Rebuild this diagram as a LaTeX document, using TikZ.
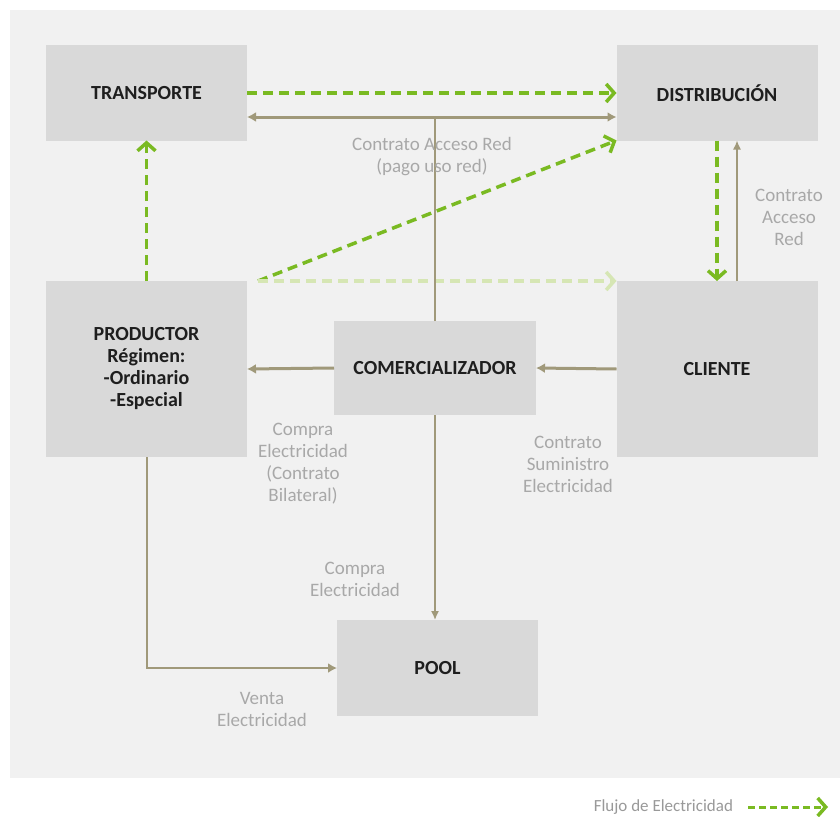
\documentclass[tikz,border=0pt]{standalone}
\usepackage{fontspec}
\setmainfont{Carlito}
\usetikzlibrary{arrows.meta,calc}

\definecolor{panelgris}{RGB}{241,241,241}
\definecolor{cajagris}{RGB}{217,217,217}
\definecolor{textocaja}{RGB}{30,30,30}
\definecolor{textogris}{RGB}{168,168,168}
\definecolor{verdeflujo}{RGB}{122,186,34}
\definecolor{verdeclaro}{RGB}{214,230,180}
\definecolor{oliva}{RGB}{160,153,122}

\begin{document}
\begin{tikzpicture}[x=1pt, y=-1pt, outer sep=0pt]

\tikzstyle{caja}=[fill=cajagris, rectangle, inner sep=0pt, minimum width=201pt, text=textocaja, font=\bfseries\fontsize{20}{22}\selectfont, align=center]
\tikzstyle{etiqueta}=[text=textogris, font=\fontsize{19}{22}\selectfont, align=center, inner sep=0pt]
\tikzstyle{flujo}=[draw=verdeflujo, line width=3.5pt, dash pattern=on 10pt off 6pt, -{Straight Barb[length=8pt,width=18pt,line width=3.5pt]}]
\tikzstyle{flujoclaro}=[flujo, draw=verdeclaro]
\tikzstyle{contrato}=[draw=oliva, line width=3pt, -{Latex[length=9pt,width=10pt]}]
\tikzstyle{contratofino}=[draw=oliva, line width=1.5pt, -{Latex[length=9pt,width=8pt]}]

\useasboundingbox (0,0) rectangle (840,816);
\fill[white] (0,0) rectangle (840,816);
\fill[panelgris] (10,10) rectangle (840,778);

\node[caja, minimum height=95pt] (transporte) at (146.5,93) {TRANSPORTE};
\node[caja, minimum height=95pt] (distribucion) at (717,93) {DISTRIBUCIÓN};
\node[caja, minimum height=176pt] (productor) at (146.5,369) {PRODUCTOR\\Régimen:\\-Ordinario\\-Especial};
\node[caja, minimum height=176pt] (cliente) at (717,369) {CLIENTE};
\node[caja, minimum width=202pt, minimum height=94pt] (comercializador) at (435,368) {COMERCIALIZADOR};
\node[caja, minimum height=96pt] (pool) at (437.5,668) {POOL};

% flujo de electricidad
\draw[flujo] (transporte.east) -- (distribucion.west);
\draw[flujo] (productor.north) -- (transporte.south);
\draw[flujo] ($(productor.north east)+(11,0)$) -- (distribucion.south west);
\draw[flujoclaro] ($(productor.north east)+(11,0)$) -- (cliente.north west);
\draw[flujo] (distribucion.south) -- (cliente.north);

% contratos
\draw[contrato, {Latex[length=9pt,width=10pt]}-{Latex[length=9pt,width=10pt]}] ($(transporte.east)+(0,24)$) coordinate (accesoA) -- ($(distribucion.west)+(0,24)$) coordinate (accesoB);
\draw[draw=oliva, line width=1.5pt] (comercializador.north) -- (comercializador.north |- accesoA);
\draw[contratofino] ([xshift=20pt]cliente.north) -- ([xshift=20pt]distribucion.south);
\draw[contrato] (cliente.west) -- (comercializador.east);
\draw[contrato] (comercializador.west) -- (productor.east);
\draw[contratofino] (comercializador.south) -- (comercializador.south |- pool.north);
\draw[contrato, line width=2pt] (productor.south) |- (pool.west);

\node[etiqueta] (lblacceso) at (432,157) {Contrato Acceso Red\\(pago uso red)};
\node[etiqueta] (lblaccesocli) at (789,217) {Contrato\\Acceso\\Red};
\node[etiqueta] (lblbilateral) at (303,464) {Compra\\Electricidad\\(Contrato\\Bilateral)};
\node[etiqueta] (lblsuministro) at (568,464) {Contrato\\Suministro\\Electricidad};
\node[etiqueta] (lblcompra) at (355,579) {Compra\\Electricidad};
\node[etiqueta] (lblventa) at (262,709) {Venta\\Electricidad};

% leyenda
\node[etiqueta, text=gray!80, font=\fontsize{17}{19}\selectfont, anchor=east] (leyenda) at (733,807) {Flujo de Electricidad};
\coordinate (leyA) at (748,807);
\coordinate (leyB) at (828,807);
\draw[flujo, line width=3pt, dash pattern=on 7pt off 4pt] (leyA) -- (leyB);
\end{tikzpicture}
\end{document}
